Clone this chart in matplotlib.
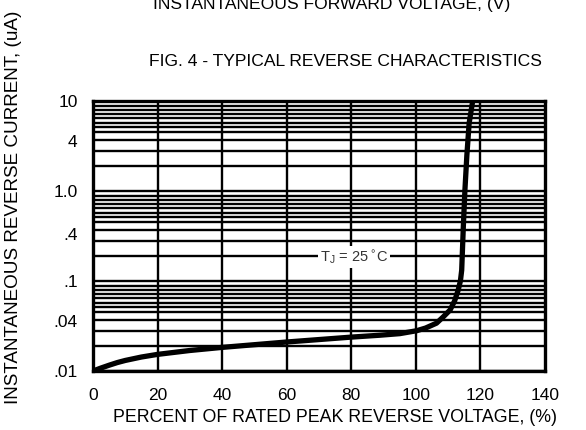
import matplotlib
matplotlib.use("Agg")
import matplotlib.pyplot as plt
import numpy as np

plt.rcParams["font.family"] = ["Liberation Sans", "DejaVu Sans"]

# curve: percent of rated voltage vs reverse current (uA)
pct = [0, 2.5, 5, 7.5, 10, 15, 20, 30, 40, 60, 80, 89, 95, 100.2, 103, 106.4,
       108.5, 110.6, 112, 113.1, 113.8, 114.2, 114.7, 115.2, 115.8, 116.5, 117.6]
cur = [0.0100, 0.0108, 0.0116, 0.0124, 0.0131, 0.0143, 0.0153, 0.0169, 0.0183,
       0.0210, 0.0238, 0.0250, 0.0260, 0.0280, 0.0300, 0.0340, 0.0400, 0.0476,
       0.0600, 0.0790, 0.1000, 0.132, 0.40, 1.03, 2.5, 5.65, 10.0]

# horizontal grid of the datasheet (one decade, repeated)
decade_lines = [8.9, 7.9, 7.2, 6.4, 5.7, 5.1, 4.5, 3.7, 2.8, 1.9]
decades = [1.0, 0.1, 0.01]
major_lines = [10, 1.0, 0.1, 0.01]
x_grid = [20, 40, 60, 80, 100, 120]

ytick_pos = [10, 3.6, 1.0, 0.33, 0.1, 0.036, 0.01]
ytick_lab = ["10", "4", "1.0", ".4", ".1", ".04", ".01"]
xticks = [0, 20, 40, 60, 80, 100, 120, 140]

fig = plt.figure(figsize=(5.86, 4.30), dpi=100)
ax = fig.add_axes([93 / 586, 1 - 371 / 430, 452 / 586, 270 / 430])
ax.set_yscale("log")
ax.set_xlim(0, 140)
ax.set_ylim(0.01, 10)

for d in decades:
    for v in decade_lines:
        ax.axhline(v * d, color="black", lw=1.7, zorder=1)
for v in major_lines:
    ax.axhline(v, color="black", lw=1.7, zorder=1)
for xv in x_grid:
    ax.axvline(xv, color="black", lw=1.7, zorder=1)

ax.plot(pct, cur, color="black", lw=3.8, solid_capstyle="butt",
        solid_joinstyle="round", zorder=3)

ax.text(80.8, 0.186, r"T$_\mathregular{J}$ = 25$^\circ\!$C", ha="center", va="center",
        fontsize=10.5, color="#333333", zorder=4,
        bbox=dict(facecolor="white", edgecolor="none", pad=1.5))

ax.set_yticks(ytick_pos)
ax.set_yticklabels(ytick_lab)
ax.yaxis.set_minor_locator(matplotlib.ticker.NullLocator())
ax.set_xticks(xticks)
ax.tick_params(length=0, labelsize=12.5, colors="black")
ax.tick_params(axis="y", pad=11)
ax.tick_params(axis="x", pad=12)
for s in ax.spines.values():
    s.set_linewidth(2.4)

fig.text(335 / 586, 1 - 417 / 430, "PERCENT OF RATED PEAK REVERSE VOLTAGE, (%)",
         ha="center", va="center", fontsize=12.8)
fig.text(14 / 586, 1 - 207 / 430, "INSTANTANEOUS REVERSE CURRENT, (uA)",
         ha="center", va="center", rotation=90, fontsize=13.6)
fig.text(345 / 586, 1 - 62 / 430, "FIG. 4 - TYPICAL REVERSE CHARACTERISTICS",
         ha="center", va="center", fontsize=12.6)
fig.text(332 / 586, 1 - 9 / 430, "INSTANTANEOUS FORWARD VOLTAGE, (V)",
         ha="center", va="baseline", fontsize=12.6)

fig.savefig("out.png", dpi=100)
